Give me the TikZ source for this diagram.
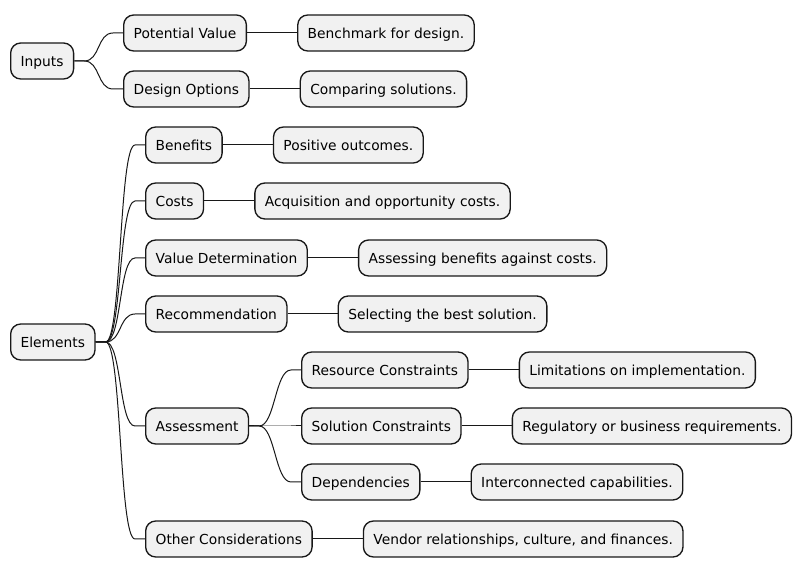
\documentclass[tikz,border=0pt]{standalone}
\usepackage{fontspec}
\setmainfont{DejaVu Sans}
\usepackage{tikz}
\usetikzlibrary{positioning,calc}
\definecolor{cfill}{HTML}{F1F1F1}
\definecolor{cline}{HTML}{181818}
\tikzset{
  box/.style={draw=cline, fill=cfill, rounded corners=7.5pt, line width=1pt, minimum height=27pt,
    inner xsep=7.5pt, inner ysep=0pt, text height=9.3pt, text depth=0.7pt,
    font=\fontsize{10.35}{12.4}\selectfont, anchor=west},
  link/.style={draw=cline, line width=0.75pt},
}
% branch from parent to child: short stub, s-curve, short stub
\newcommand{\branch}[2]{\draw[link] (#1.east) -- ++(10,0) .. controls +(16,0) and +(-16,0) .. ($(#2.west)+(-10,0)$) -- (#2.west);}

\begin{document}
\begin{tikzpicture}[x=0.75pt,y=-0.75pt]
\useasboundingbox (0,0) rectangle (801,573);
% roots
\node[box] (inputs) at (10,61) {Inputs};
\node[box] (elements) at (10,342) {Elements};
% inputs side
\node[box] (potval) at (123,33) {Potential Value};
\node[box] (desopt) at (123,89) {Design Options};
\node[box, right=37.5pt of potval] (bench) {Benchmark for design.};
\node[box, right=37.5pt of desopt] (compare) {Comparing solutions.};
\branch{inputs}{potval} \branch{inputs}{desopt}
\draw[link] (potval) -- (bench); \draw[link] (desopt) -- (compare);
% elements side
\foreach \n/\y/\t/\m/\d in {
  benefits/145/Benefits/positive/{Positive outcomes.},
  costs/201/Costs/acquis/{Acquisition and opportunity costs.},
  valdet/258/Value Determination/assess/{Assessing benefits against costs.},
  recomm/314/Recommendation/select/{Selecting the best solution.},
  other/539/Other Considerations/vendor/{Vendor relationships, culture, and finances.}}{
  \node[box] (\n) at (145,\y) {\t};
  \node[box, right=37.5pt of \n] (\m) {\d};
  \branch{elements}{\n}
  \draw[link] (\n) -- (\m);
}
\node[box] (assessment) at (145,426) {Assessment};
\branch{elements}{assessment}
\foreach \n/\y/\t/\m/\d in {
  rescons/370/Resource Constraints/limits/{Limitations on implementation.},
  solcons/426/Solution Constraints/regul/{Regulatory or business requirements.},
  depend/482/Dependencies/intercon/{Interconnected capabilities.}}{
  \node[box] (\n) at (301,\y) {\t};
  \node[box, right=37.5pt of \n] (\m) {\d};
  \branch{assessment}{\n}
  \draw[link] (\n) -- (\m);
}
\end{tikzpicture}
\end{document}
